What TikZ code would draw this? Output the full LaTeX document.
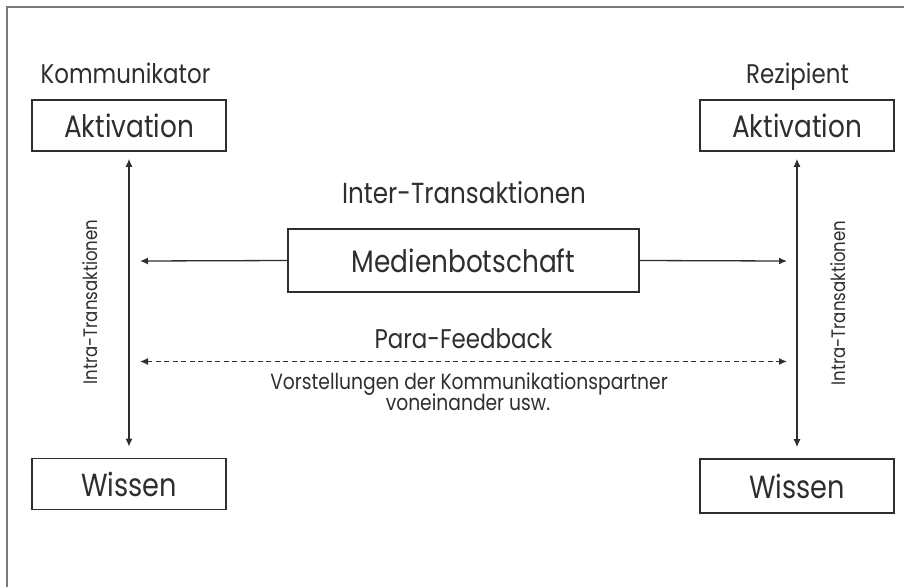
\documentclass[tikz,border=0pt]{standalone}
\usepackage{fontspec}
\setmainfont{Poppins}[FakeStretch=0.85]
\usetikzlibrary{arrows.meta}
\definecolor{ink}{HTML}{2E2E2E}
\definecolor{framegray}{HTML}{7A7A7A}
\newcommand{\fsz}[1]{\fontsize{#1}{#1}\selectfont}
\begin{document}
\begin{tikzpicture}[x=1pt,y=-1pt,
  box/.style={draw=ink, line width=1.6pt, inner sep=0pt, text=ink},
  smallbox/.style={box, minimum width=194pt, minimum height=51pt, font=\fsz{31}},
  lbl/.style={text=ink, inner sep=0pt},
  conn/.style={draw=ink, line width=1.3pt, -{Latex[length=8pt,width=7pt]}},
  both/.style={draw=ink, line width=1.3pt, {Latex[length=8pt,width=7pt]}-{Latex[length=8pt,width=7pt]}},
]
\useasboundingbox (0,0) rectangle (904,587);
% outer frame
\draw[framegray, line width=1.6pt] (7,587) -- (7,7) -- (904,7);

% sender and receiver boxes
\node[smallbox] (aktL) at (129,125.5) {Aktivation};
\node[smallbox] (aktR) at (797,125.5) {Aktivation};
\node[smallbox, font=\fsz{32}] (wisL) at (129,484) {Wissen};
\node[smallbox, font=\fsz{32}, minimum height=54pt] (wisR) at (797,486) {Wissen};

% headings
\node[lbl, anchor=base, font=\fsz{27}] (komm) at (125.5,83) {Kommunikator};
\node[lbl, anchor=base, font=\fsz{27}] (rez) at (797.5,83) {Rezipient};
\node[lbl, anchor=base, font=\fsz{29}] (inter) at (464,203) {Inter-Transaktionen};

% message box
\node[box, minimum width=351pt, minimum height=63pt, font=\fsz{31}] (med) at (463.5,260.5) {Medienbotschaft};

% para-feedback labels
\node[lbl, anchor=base, font=\fsz{27}] (para) at (463.5,348) {Para-Feedback};
\node[lbl, anchor=base, font=\fsz{22}] (vor1) at (469,389) {Vorstellungen der Kommunikationspartner};
\node[lbl, anchor=base, font=\fsz{22}] (vor2) at (468,410) {voneinander usw.};

% intra-transaction labels
\node[lbl, rotate=90, font=\fsz{19.5}] (intraL) at (90,302) {Intra-Transaktionen};
\node[lbl, rotate=90, font=\fsz{19.5}] (intraR) at (838,303) {Intra-Transaktionen};

% arrow end points
\coordinate (hL) at (140,261);
\coordinate (hR) at (787,261);
\coordinate (dL) at (140,361.5);
\coordinate (dR) at (787,361.5);

% connectors
\draw[both, shorten <=7pt, shorten >=11pt] (aktL.south) -- (wisL.north);
\draw[both, shorten <=7pt, shorten >=11pt] (aktR.south) -- (wisR.north);
\draw[conn] (med.west) -- (hL);
\draw[conn] (med.east) -- (hR);
\draw[both, dash pattern=on 5pt off 3.5pt] (dL) -- (dR);
\end{tikzpicture}
\end{document}
